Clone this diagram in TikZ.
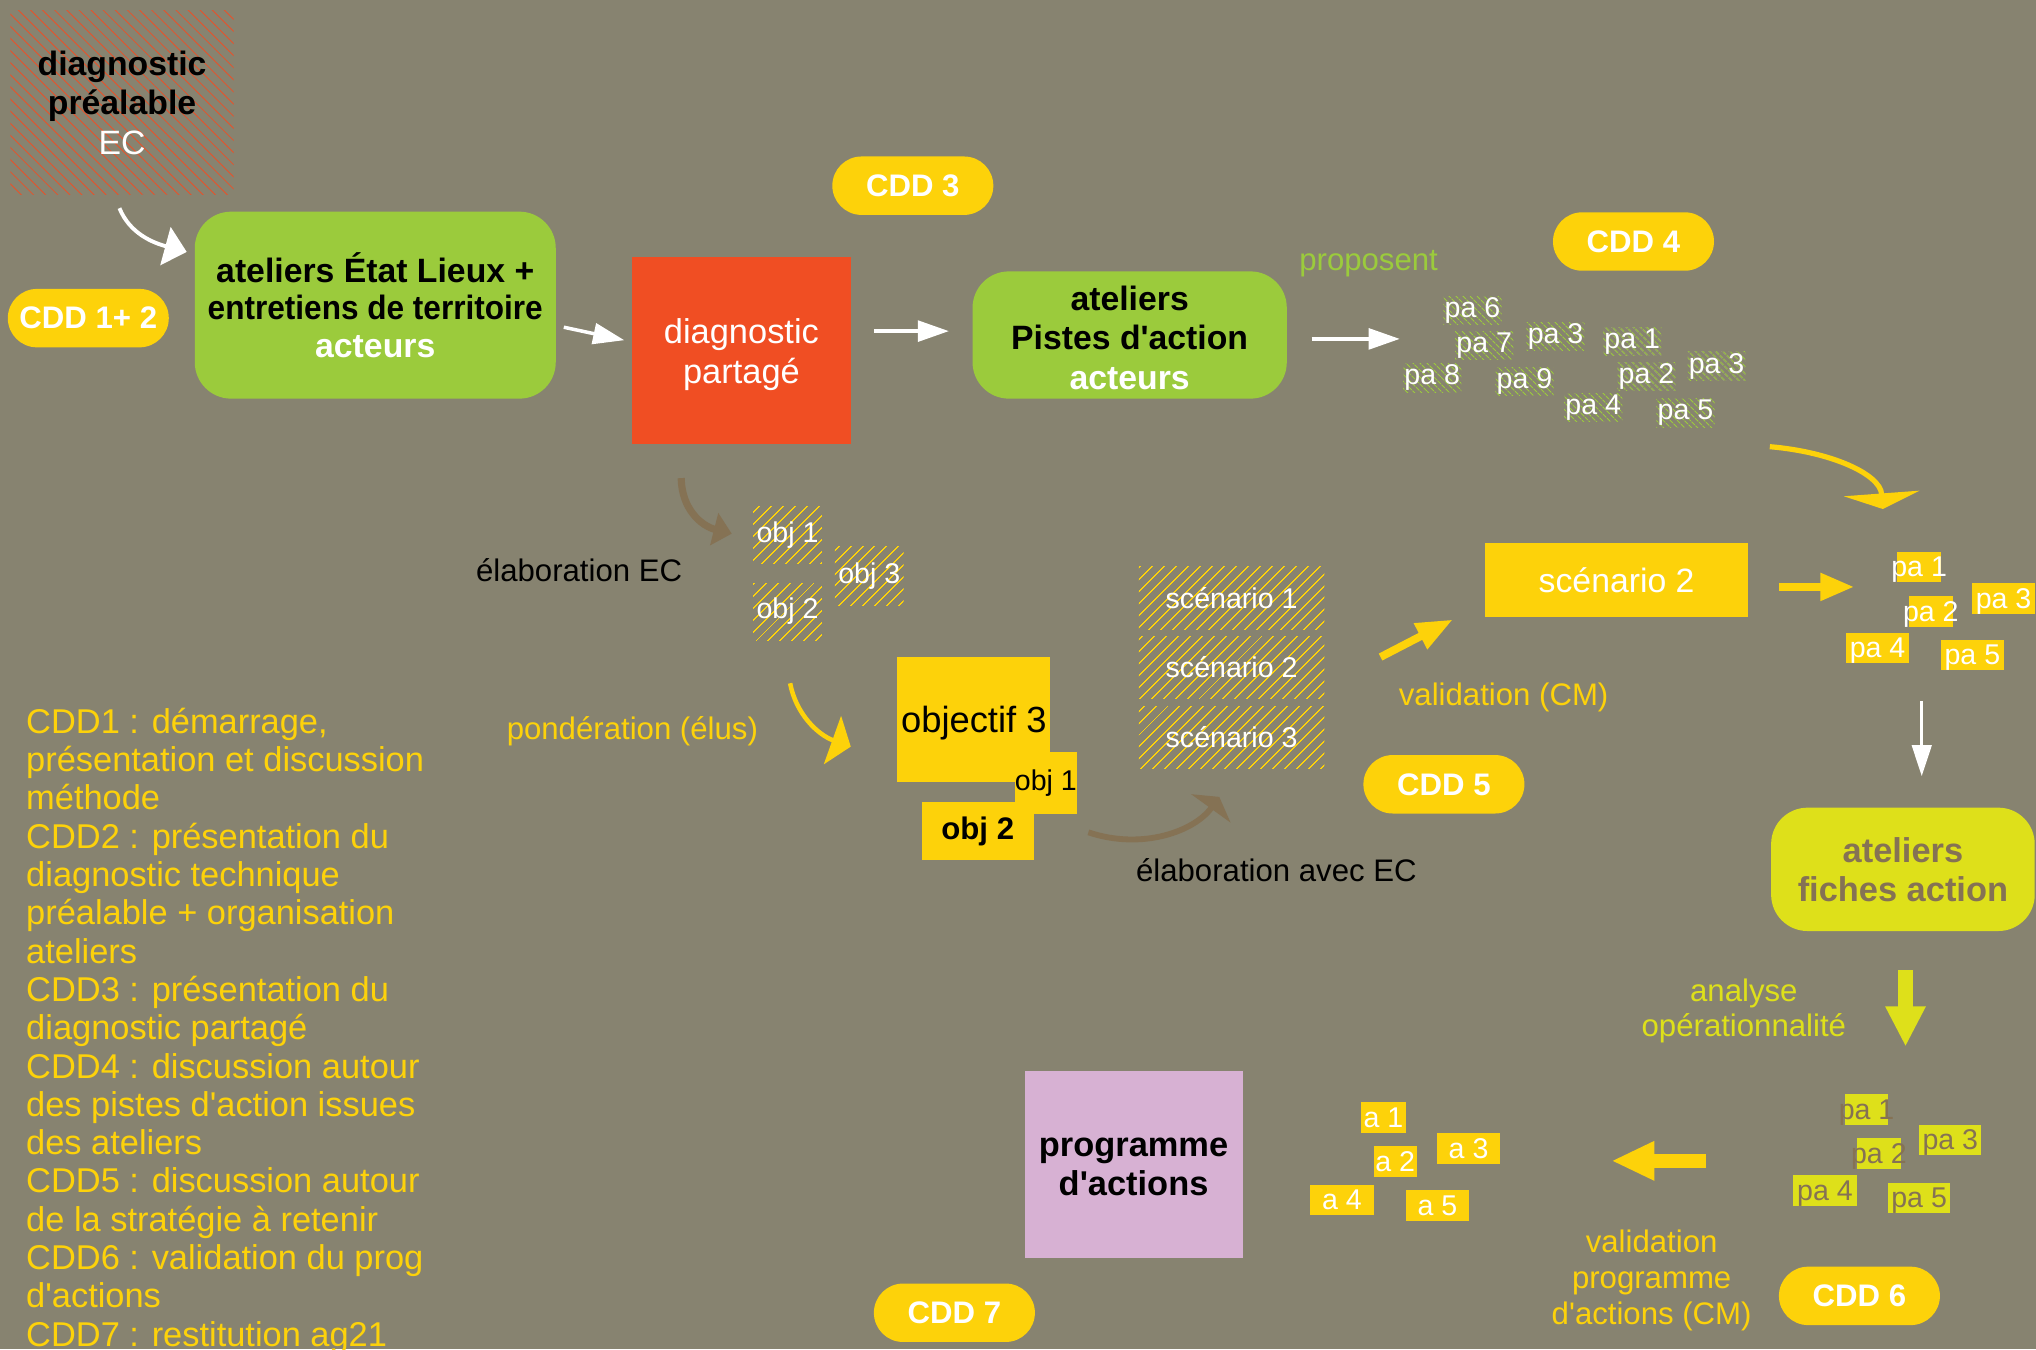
\documentclass[tikz,border=0pt]{standalone}
\usepackage{fontspec}
\usepackage{graphicx}
\setmainfont{Liberation Sans}
\newfontfamily\qfont{Liberation Sans}
\newcommand\ap{{\qfont'}}
\newcommand\dn[2]{\raisebox{-#1}[\height][\depth]{#2}}
\usetikzlibrary{arrows.meta,patterns.meta}
\definecolor{cBg}{RGB}{135,131,112}
\definecolor{cYel}{RGB}{253,210,10}
\definecolor{cGrn}{RGB}{155,203,60}
\definecolor{cRed}{RGB}{240,78,35}
\definecolor{cLime}{RGB}{222,224,26}
\definecolor{cBrn}{RGB}{133,114,84}
\definecolor{cLilac}{RGB}{215,177,211}
\definecolor{cHatch}{RGB}{232,82,42}
\newcommand\fsz[2]{\fontsize{#1}{#2}\selectfont}
\tikzset{
  pill/.style={fill=cYel, rounded corners=22.5pt, minimum width=124pt, minimum height=45pt, inner sep=0pt, text=white, font=\fsz{24}{28}\bfseries},
  gbox/.style={fill=cGrn, rounded corners=28pt, align=center, inner sep=0pt, font=\fsz{26}{29}\bfseries},
  sqbox/.style={align=center, inner sep=0pt},
  lbl/.style={font=\fsz{24}{27}, align=center, inner sep=0pt},
  hatchR/.style={pattern={Lines[angle=-45,distance=6.6pt,line width=0.65pt]}, pattern color=cHatch},
  hatchY/.style={pattern={Lines[angle=45,distance=6.5pt,line width=0.9pt]}, pattern color=cYel, text=white, font=\fsz{22}{24}, inner sep=0pt},
  pah/.style={pattern={Lines[angle=-45,distance=4pt,line width=0.8pt]}, pattern color=cGrn, text=white, font=\fsz{22}{24}, inner xsep=1pt, inner ysep=1pt},
  smbox/.style={font=\fsz{22}{24}, minimum height=23.5pt, inner ysep=0pt, text height=19pt, text depth=4pt},
  ybox/.style={smbox, fill=cYel, text=white},
  lbox/.style={smbox, fill=cLime, text=cBrn},
  arW/.style={draw=white, line width=2.7pt, -{Triangle[length=24pt,width=16pt]}},
}
\begin{document}
\begin{tikzpicture}[x=1pt,y=1pt]
\clip (0,0) rectangle (1568,-1039);
\fill[cBg] (0,0) rectangle (1568,-1039);

% ---- top row
\node[hatchR, sqbox, minimum width=172pt, minimum height=142pt, font=\fsz{26}{30.5}\bfseries] (diag) at (94,-79)
  {diagnostic\\préalable\\{\mdseries\color{white}EC}};
\node[pill] (cdd12) at (68,-245) {CDD 1+ 2};
\node[gbox, minimum width=278pt, minimum height=144pt] (ate1) at (289,-235)
  {ateliers État Lieux +\\\scalebox{0.935}[1]{entretiens de territoire}\\{\color{white}acteurs}};
\node[sqbox, fill=cRed, minimum width=168pt, minimum height=144pt, text=white, font=\fsz{26.5}{31}] (diagp) at (571,-270)
  {\dn{3pt}{diagnostic}\\\dn{3pt}{partagé}};
\node[pill] (cdd3) at (703,-143) {CDD 3};
\node[gbox, minimum width=242pt, minimum height=98pt, font=\fsz{26}{30.5}\bfseries] (ate2) at (870,-258)
  {\dn{2pt}{ateliers}\\\dn{2pt}{Pistes d\ap action}\\\dn{2pt}{\color{white}acteurs}};
\node[lbl, text=cGrn] (prop) at (1054,-203) {proposent};
\node[pill] (cdd4) at (1258,-186) {CDD 4};

% ---- pistes d'action cluster
\node[pah] (p6) at (1134,-239) {pa 6};
\node[pah] (p7) at (1143,-266) {pa 7};
\node[pah] (p3a) at (1198,-259) {pa 3};
\node[pah] (p1) at (1257,-263) {pa 1};
\node[pah] (p8) at (1103,-291) {pa 8};
\node[pah] (p9) at (1174,-294) {pa 9};
\node[pah] (p2) at (1268,-290) {pa 2};
\node[pah] (p3b) at (1322,-282) {pa 3};
\node[pah] (p4) at (1227,-314) {pa 4};
\node[pah] (p5) at (1298,-318) {pa 5};

% ---- objectives
\node[lbl] (elab) at (446,-439) {élaboration EC};
\node[hatchY, minimum width=53pt, minimum height=44pt] (oh1) at (606.5,-412) {obj 1};
\node[hatchY, minimum width=53pt, minimum height=45pt] (oh3) at (669.5,-443.5) {obj 3};
\node[hatchY, minimum width=53pt, minimum height=44pt] (oh2) at (606.5,-471) {obj 2};
\node[lbl, text=cYel] (pond) at (487,-563) {pondération (élus)};
\node[sqbox, fill=cYel, minimum width=118pt, minimum height=96pt, font=\fsz{28}{30}, text depth=0pt] (obj3) at (750,-554) {objectif 3};
\node[sqbox, fill=cYel, minimum width=47pt, minimum height=48pt, font=\fsz{22}{24}] (ob1) at (805.5,-603) {obj 1};
\node[sqbox, fill=cYel, minimum width=86pt, minimum height=44pt, font=\fsz{24}{26}\bfseries] (ob2) at (753,-640) {obj 2};

% ---- scenarios
\node[hatchY, minimum width=143pt, minimum height=49pt] (sch1) at (948.5,-460.5) {scénario 1};
\node[hatchY, minimum width=143pt, minimum height=48pt] (sch2) at (948.5,-514) {scénario 2};
\node[hatchY, minimum width=143pt, minimum height=48pt] (sch3) at (948.5,-568) {scénario 3};
\node[lbl] (elab2) at (983,-670) {élaboration avec EC};
\node[lbl, text=cYel] (valcm) at (1158,-537) {validation (CM)};
\node[sqbox, fill=cYel, minimum width=202pt, minimum height=57pt, text=white, font=\fsz{26}{28}] (scen2) at (1245,-446.5) {scénario 2};
\node[pill] (cdd5) at (1112,-604) {CDD 5};

% ---- retained pistes
\node[ybox, inner xsep=-4.5pt] (r1) at (1478,-436.5) {pa 1};
\node[ybox, inner xsep=-4.5pt] (r2) at (1487,-471) {pa 2};
\node[ybox, minimum width=48pt, inner xsep=0pt] (r3) at (1543,-461) {pa 3};
\node[ybox, minimum width=48pt, inner xsep=0pt] (r4) at (1446,-499) {pa 4};
\node[ybox, minimum width=48pt, inner xsep=0pt] (r5) at (1519,-504.5) {pa 5};

% ---- fiches action
\node[gbox, fill=cLime, text=cBrn, minimum width=203pt, minimum height=95pt, font=\fsz{26.5}{30}\bfseries] (fich) at (1465.5,-669.5)
  {ateliers\\fiches action};
\node[lbl, text=cLime] (anal) at (1343,-778.5) {analyse\\opérationnalité};
\node[lbox, inner xsep=-5pt] (l1) at (1437.5,-854.5) {pa 1};
\node[lbox, inner xsep=-4.5pt] (l2) at (1447,-888.5) {pa 2};
\node[lbox, minimum width=48pt, inner xsep=0pt] (l3) at (1502,-878) {pa 3};
\node[lbox, minimum width=49pt, inner xsep=0pt] (l4) at (1405.5,-917) {pa 4};
\node[lbox, minimum width=48pt, inner xsep=0pt] (l5) at (1478,-922.5) {pa 5};

% ---- actions
\node[ybox, minimum width=35pt, inner xsep=0pt] (a1) at (1065.5,-860.5) {a 1};
\node[ybox, minimum width=33pt, inner xsep=0pt] (a2) at (1074.5,-894.5) {a 2};
\node[ybox, minimum width=48pt, inner xsep=0pt] (a3) at (1131,-884.5) {a 3};
\node[ybox, minimum width=49pt, inner xsep=0pt] (a4) at (1033.5,-924) {a 4};
\node[ybox, minimum width=48pt, inner xsep=0pt] (a5) at (1107,-928.5) {a 5};
\node[sqbox, fill=cLilac, minimum width=168pt, minimum height=144pt, font=\fsz{26.5}{30}\bfseries] (prog) at (873,-897)
  {\dn{2pt}{programme}\\\dn{2pt}{d\ap actions}};
\node[lbl, text=cYel, font=\fsz{24}{27.5}] (valprog) at (1272,-986) {validation\\programme\\d\ap actions (CM)};
\node[pill] (cdd6) at (1432,-998) {CDD 6};
\node[pill] (cdd7) at (735,-1011) {CDD 7};

% ---- legend
\node[anchor=north west, inner sep=0pt, align=left, text=cYel, font=\fsz{26.5}{29.5}] (legend) at (20,-545)
  {CDD1 : démarrage,\\présentation et discussion\\méthode\\CDD2 : présentation du\\diagnostic technique\\préalable + organisation\\ateliers\\CDD3 : présentation du\\diagnostic partagé\\CDD4 : discussion autour\\des pistes d\ap action issues\\des ateliers\\CDD5 : discussion autour\\de la stratégie à retenir\\CDD6 : validation du prog\\d\ap actions\\CDD7 : restitution ag21};

% ---- free ends
\coordinate (pain) at (1078,-261);
\coordinate (c5s) at (1363,-344);
\coordinate (c5e) at (1450,-392);
\coordinate (c6e) at (1428,-452);
\coordinate (c8s) at (1480,-540);
\coordinate (c9e) at (1467.5,-806);
\coordinate (c10s) at (1314,-894);
\coordinate (c10e) at (1241,-894);

% ---- connectors
\draw[arW, line width=3pt, -{Triangle[length=17pt,width=30pt]}] ([shift={(-2,-10)}]diag.south) .. controls (100,-180) and (118,-187) .. ([shift={(-6,41)}]ate1.west);
\draw[arW] ([shift={(6,-17)}]ate1.east) -- ([shift={(-6,8)}]diagp.west);
\draw[arW] ([shift={(18,15)}]diagp.east) -- ([shift={(-18,3)}]ate2.west);
\draw[arW] ([shift={(19,-3)}]ate2.east) -- (pain);
\draw[cYel, line width=4pt, -{Triangle[length=12pt,width=58pt]}] (c5s) .. controls (1410,-348) and (1448,-365) .. (c5e);
\draw[cYel, line width=6pt, -{Triangle[length=26pt,width=20pt]}] ([shift={(24,-5.5)}]scen2.east) -- (c6e);
\draw[cYel, line width=6pt, -{Triangle[length=28pt,width=21pt]}] ([shift={(43,8)}]sch2.east) -- ([shift={(-25,-2)}]scen2.south west);
\draw[arW, line width=2.5pt, -{Triangle[length=24pt,width=15pt]}] (c8s) -- ([shift={(14.5,24)}]fich.north);
\draw[cLime, line width=11pt, -{Triangle[length=31pt,width=29pt]}] ([shift={(2,-30)}]fich.south) -- (c9e);
\draw[cYel, line width=11pt, -{Triangle[length=33pt,width=28pt]}] (c10s) -- (c10e);
\draw[cBrn, line width=5.5pt, -{Triangle[length=14pt,width=25pt]}] ([shift={(-46.4,-26)}]diagp.south) .. controls (525,-392) and (540,-405) .. ([shift={(-16,1)}]oh1.west);
\draw[cYel, line width=3.5pt, -{Triangle[length=15pt,width=39pt]}] ([shift={(2,-33)}]oh2.south) .. controls (613,-550) and (630,-566) .. ([shift={(-35.6,-21)}]obj3.west);
\draw[cBrn, line width=4.5pt, -{Triangle[length=11pt,width=37pt]}] ([shift={(42,-1)}]ob2.east) .. controls (880,-655) and (920,-640) .. ([shift={(-9.5,-21.5)}]sch3.south);
\end{tikzpicture}
\end{document}
